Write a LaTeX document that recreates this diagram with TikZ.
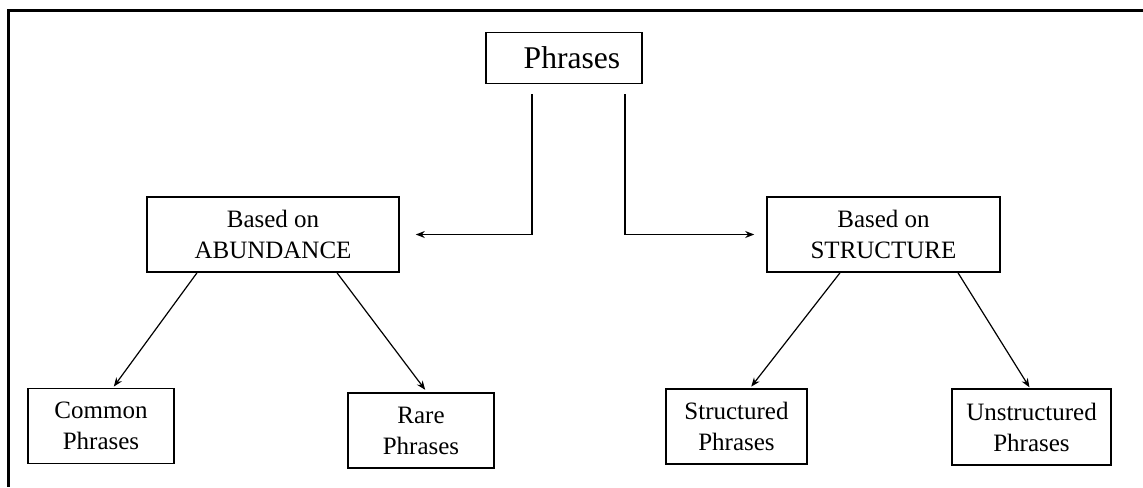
\documentclass[tikz,border=0pt]{standalone}
\usepackage{fontspec}
\setmainfont{Liberation Serif}
\usepackage{tikz}
\usetikzlibrary{arrows.meta}

\begin{document}
\begin{tikzpicture}[x=0.5pt, y=-0.5pt,
    box/.style={draw, line width=0.8pt, inner sep=0pt, align=center,
        font=\fontsize{12.5}{15.5}\selectfont},
    link/.style={line width=0.6pt, -{Stealth[length=4.5pt, width=3.5pt]}}]
    \useasboundingbox (0,0) rectangle (1143,487);

    % Frame
    \draw[line width=1.5pt] (1143,10) -- (8,10) -- (8,487);

    % Nodes
    \node[box, minimum width=78pt, minimum height=25.5pt,
        font=\fontsize{15.8}{19}\selectfont] (phrases) at (564,58) {\hspace*{8pt}Phrases};
    \node[box, minimum width=126pt, minimum height=37.5pt] (abund) at (273,234.5) {Based on\\ABUNDANCE};
    \node[box, minimum width=116.5pt, minimum height=37.5pt] (struct) at (883.5,234.5) {Based on\\STRUCTURE};
    \node[box, minimum width=73pt, minimum height=37.5pt] (common) at (101,426) {Common\\Phrases};
    \node[box, minimum width=73pt, minimum height=37.5pt] (rare) at (421,430.5) {Rare\\Phrases};
    \node[box, minimum width=70.5pt, minimum height=37.5pt] (structd) at (736.5,426.5) {Structured\\Phrases};
    \node[box, minimum width=79.5pt, minimum height=38pt] (unstructd) at (1031.5,427) {Unstructured\\Phrases};

    % Arrows
    \draw[link, shorten <=5pt, shorten >=8pt] ([xshift=-16pt]phrases.south) |- (abund.east);
    \draw[link, shorten <=5pt, shorten >=6pt] ([xshift=30.5pt]phrases.south) |- (struct.west);
    \draw[link, shorten >=0.7pt] ([xshift=-38pt]abund.south) -- ([xshift=6pt]common.north);
    \draw[link, shorten >=1.5pt] ([xshift=32pt]abund.south) -- ([xshift=3pt]rare.north);
    \draw[link, shorten >=1pt] ([xshift=-21.75pt]struct.south) -- ([xshift=6.75pt]structd.north);
    \draw[link, shorten >=0.5pt] ([xshift=37.25pt]struct.south) -- ([xshift=-0.75pt]unstructd.north);

\end{tikzpicture}
\end{document}
